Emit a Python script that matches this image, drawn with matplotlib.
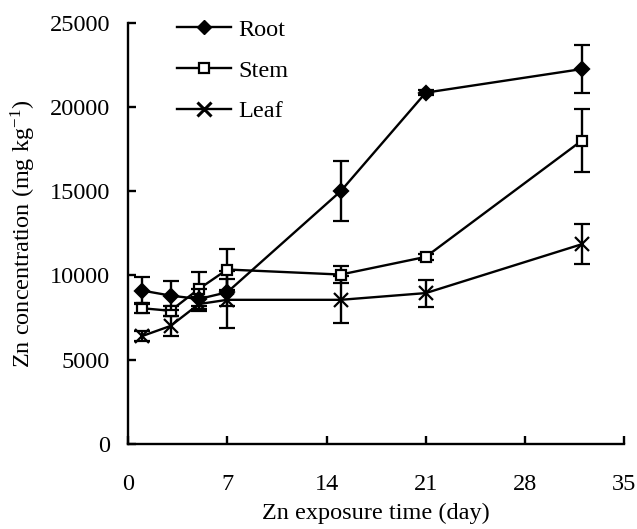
import numpy as np
import matplotlib
matplotlib.use("Agg")
import matplotlib.pyplot as plt
from matplotlib.lines import Line2D

plt.rcParams['font.family'] = ['Liberation Serif', 'DejaVu Serif']
plt.rcParams['mathtext.fontset'] = 'stix'

# sampling days
days = [1, 3, 5, 7, 15, 21, 32]

# Zn concentration (mg kg-1) and error bars
root = [9100, 8800, 8600, 9000, 15000, 20850, 22250]
root_err = [800, 850, 600, 800, 1800, 150, 1400]
stem = [8050, 7900, 9200, 10350, 10050, 11100, 18000]
stem_err = [300, 300, 1000, 1200, 500, 200, 1850]
leaf = [6400, 7000, 8300, 8550, 8550, 8950, 11850]
leaf_err = [300, 600, 400, 1700, 1400, 800, 1200]

fs = 17.5

fig = plt.figure(figsize=(6.37, 5.29), dpi=100)
ax = fig.add_axes([0.201, 0.161, 0.779, 0.796])

lw = 1.7
common = dict(color='black', linewidth=lw, elinewidth=lw, capsize=6,
              capthick=lw, markeredgewidth=1.6)
ax.errorbar(days, leaf, yerr=leaf_err, marker='x', markersize=10,
            zorder=3, **common)
ax.errorbar(days, stem, yerr=stem_err, marker='s', markersize=7.5,
            markerfacecolor='white', markeredgecolor='black',
            zorder=4, **common)
ax.errorbar(days, root, yerr=root_err, marker='D', markersize=7.5,
            markerfacecolor='black', zorder=5, **common)

ax.set_xlim(0, 35)
ax.set_ylim(0, 25000)
ax.set_xticks(np.arange(0, 36, 7))
ax.set_yticks(np.arange(0, 25001, 5000))

for s in ['top', 'right']:
    ax.spines[s].set_visible(False)
for s in ['left', 'bottom']:
    ax.spines[s].set_linewidth(1.7)
ax.tick_params(direction='in', length=6, width=1.7, labelsize=fs)
ax.tick_params(axis='x', pad=22)
ax.tick_params(axis='y', pad=13)

ax.set_xlabel('Zn exposure time (day)', fontsize=fs, labelpad=5)
ax.set_ylabel('Zn concentration (mg kg$^{\\mathregular{-1}}$)', fontsize=fs,
              labelpad=8)

# legend without error bars
handles = [
    Line2D([], [], color='black', lw=lw, marker='D', markersize=7.5),
    Line2D([], [], color='black', lw=lw, marker='s', markersize=7,
           markerfacecolor='white', markeredgewidth=1.6),
    Line2D([], [], color='black', lw=lw, marker='x', markersize=10,
           markeredgewidth=2.2),
]
ax.legend(handles, ['Root', 'Stem', 'Leaf'],
          loc='upper left', bbox_to_anchor=(0.055, 1.062), frameon=False,
          fontsize=fs, handlelength=2.2, handletextpad=0.3,
          labelspacing=0.78)

plt.savefig('out.png', dpi=100)
